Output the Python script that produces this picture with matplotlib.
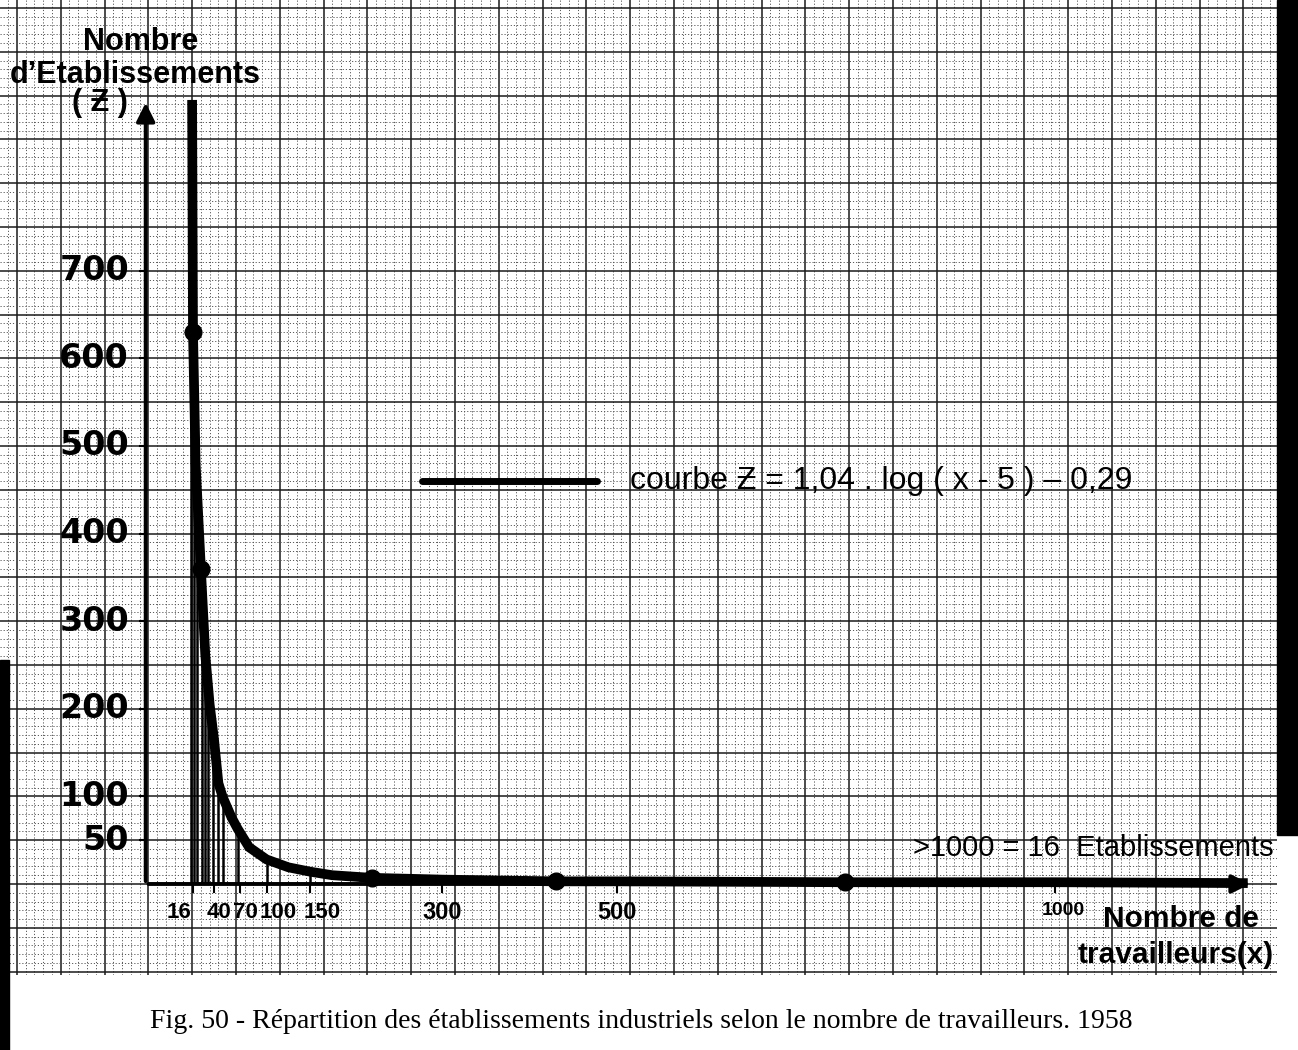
import matplotlib
matplotlib.use("Agg")
from matplotlib import pyplot as plt
from matplotlib.ticker import MultipleLocator
from matplotlib.patches import Rectangle

# number of workers (x) vs number of establishments (Z)
workers = [15, 16, 19, 25, 30, 35, 40, 45, 50, 60, 67, 80, 100, 125, 150, 175,
           220, 300, 430, 500, 760, 1000, 1220]
establishments = [895, 630, 480, 360, 262, 205, 165, 115, 99, 76, 63, 42, 28, 19,
                  14, 10, 7, 5, 3, 3, 2, 2, 1]
dot_x = [16, 25, 220, 430, 760]
dot_y = [630, 360, 7, 3, 2]

# vertical class lines drawn from the curve down to the axis
drop_x = [14, 17, 21, 26, 30, 33, 39, 45, 50, 67, 100, 150]
drop_top = [880, 700, 520, 360, 262, 236, 172, 115, 99, 63, 28, 14]

x_ticks = [16, 40, 70, 100, 150, 300, 500, 1000]
y_ticks = [50, 100, 200, 300, 400, 500, 600, 700]

bold = ["Liberation Sans", "DejaVu Sans"]

fig = plt.figure(figsize=(12.98, 10.5), dpi=100)
ax = fig.add_axes([0, 75 / 1050, 1277 / 1298, 975 / 1050])
ax.set_xlim(-204.3, 1253.4)
ax.set_ylim(-103.9, 1009.1)
for s in ax.spines.values():
    s.set_visible(False)

# graph paper
ax.xaxis.set_major_locator(MultipleLocator(50, offset=15))
ax.xaxis.set_minor_locator(MultipleLocator(10, offset=5))
ax.yaxis.set_major_locator(MultipleLocator(50))
ax.yaxis.set_minor_locator(MultipleLocator(10))
ax.grid(which="major", color="0.1", lw=1.1)
ax.grid(which="minor", color="0.35", lw=0.7, ls=(0, (1.2, 2)))
ax.tick_params(which="both", length=0, labelbottom=False, labelleft=False)
ax.set_axisbelow(True)

y_axis_x = -38
# axes with arrows
ax.annotate("", xy=(1226, 0), xytext=(y_axis_x, 0),
            arrowprops=dict(arrowstyle="-|>", lw=2.8, color="k", mutation_scale=28))
ax.annotate("", xy=(y_axis_x, 895), xytext=(y_axis_x, 0),
            arrowprops=dict(arrowstyle="-|>", lw=2.8, color="k", mutation_scale=28))

# curve
ax.vlines(drop_x, 0, drop_top, color="k", lw=1.8)
ax.plot(workers, establishments, color="k", lw=7, solid_capstyle="butt",
        solid_joinstyle="round")
ax.plot(dot_x, dot_y, "o", color="k", ms=12)

# ticks and tick labels
for v in y_ticks:
    ax.plot([y_axis_x - 7, y_axis_x], [v, v], color="k", lw=1.5)
    ax.text(y_axis_x - 19, v, str(v), ha="right", va="center", fontsize=24,
            fontweight="bold", family="DejaVu Sans")
for v in x_ticks:
    ax.plot([v, v], [0, -9], color="k", lw=1.5)
    if v == 16:
        ax.text(v - 2, -32, str(v), ha="right", va="center", fontsize=16,
                fontweight="bold", family=bold)
    elif v <= 150:
        ax.text(v - 8, -32, str(v), ha="left", va="center", fontsize=16,
                fontweight="bold", family=bold)
    elif v < 1000:
        ax.text(v, -32, str(v), ha="center", va="center", fontsize=17,
                fontweight="bold", family=bold)
    else:
        ax.text(v + 10, -30, str(v), ha="center", va="center", fontsize=14,
                fontweight="bold", family=bold)

# axis titles
ax.text(-44, 961, "Nombre", ha="center", va="center", fontsize=22,
        fontweight="bold", family=bold)
ax.text(-50, 923, "d\u2019Etablissements", ha="center", va="center", fontsize=22,
        fontweight="bold", family=bold)
ax.text(-90, 891, "( \u01b5 )", ha="center", va="center", fontsize=22,
        fontweight="bold", family=bold)
ax.text(1055, -40, "Nombre de", ha="left", va="center", fontsize=21.5,
        fontweight="bold", family=bold)
ax.text(1026, -81, "travailleurs(x)", ha="left", va="center", fontsize=21.5,
        fontweight="bold", family=bold)

# legend
ax.plot([277, 477], [460, 460], color="k", lw=5, solid_capstyle="round")
ax.text(515, 460, "courbe \u01b5 = 1,04 . log ( x - 5 ) \u2013 0,29", ha="left",
        va="center", fontsize=23, family=bold)
ax.text(838, 41, ">1000 = 16  Etablissements", ha="left", va="center",
        fontsize=21, family=bold, clip_on=False)

# scan borders
fig.patches.append(Rectangle((1277 / 1298, 215 / 1050), 21 / 1298, 835 / 1050,
                             transform=fig.transFigure, color="k", zorder=5))
fig.patches.append(Rectangle((0, 0), 9 / 1298, 390 / 1050,
                             transform=fig.transFigure, color="k", zorder=5))

fig.text(0.494, 0.027,
         "Fig. 50 - R\u00e9partition des \u00e9tablissements industriels selon le nombre de travailleurs. 1958",
         ha="center", va="center", fontsize=20, family="Liberation Serif")

plt.savefig("out.png", dpi=100)
